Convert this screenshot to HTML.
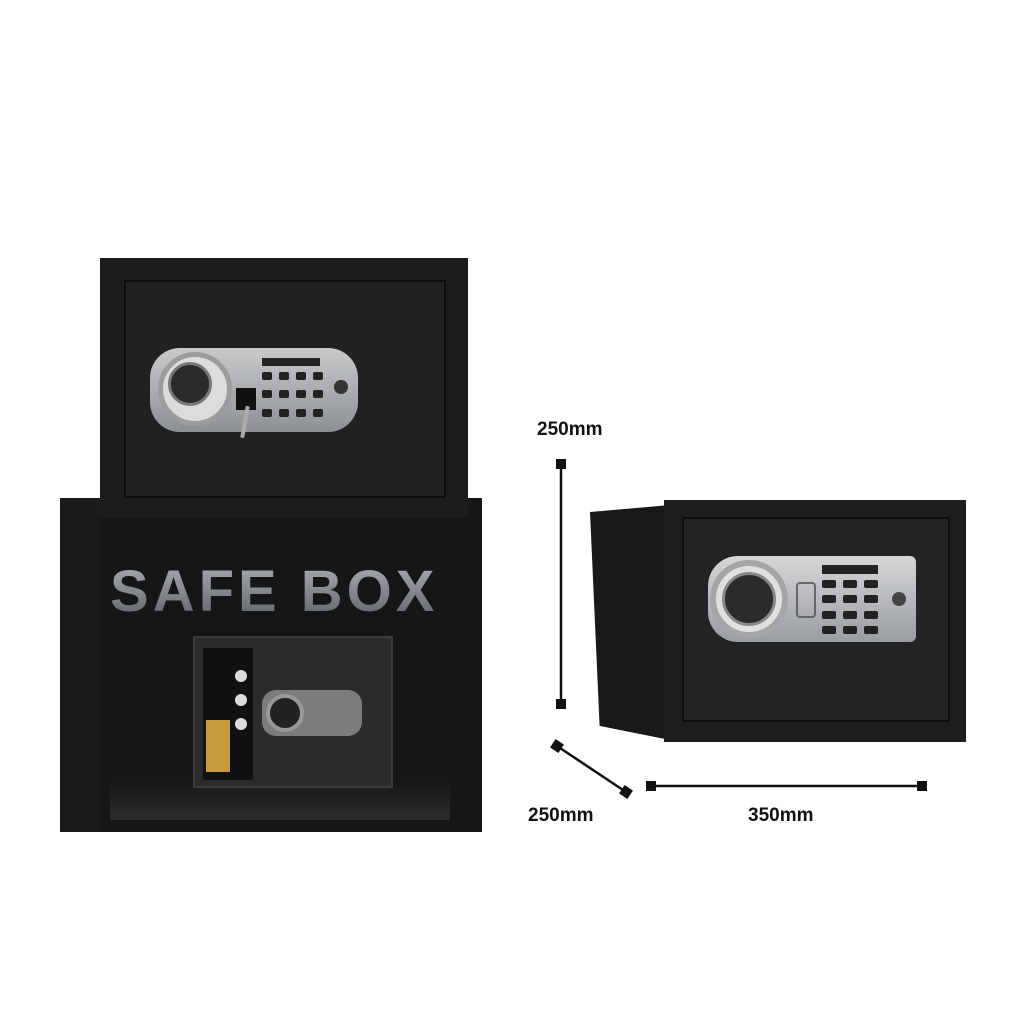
<!DOCTYPE html>
<html><head><meta charset="utf-8"><style>
body{margin:0;width:1024px;height:1024px;background:#fff;position:relative;overflow:hidden;font-family:"Liberation Sans",sans-serif}
div{position:absolute;box-sizing:border-box}
.lbl{font-weight:bold;font-size:19px;color:#111}
.key{width:10px;height:8px;background:#222;border-radius:2px}
</style></head><body>
<!-- box -->
<div style="left:60px;top:498px;width:422px;height:334px;background:#141617"></div>
<div style="left:60px;top:498px;width:40px;height:334px;background:#191b1c"></div>
<div style="left:110px;top:558px;width:340px;font-size:58px;font-weight:bold;letter-spacing:4px;font-family:'Liberation Sans',sans-serif;background:linear-gradient(#b0b3b6,#5a5d60);-webkit-background-clip:text;background-clip:text;color:transparent">SAFE BOX</div>
<div style="left:110px;top:780px;width:340px;height:40px;background:linear-gradient(#141617,#2a2c2e)"></div>
<!-- pictured safe on box -->
<div style="left:193px;top:636px;width:200px;height:152px;background:#2a2b2c;border:2px solid #3a3b3c"></div>
<div style="left:203px;top:648px;width:50px;height:132px;background:#111"></div>
<div style="left:206px;top:720px;width:24px;height:52px;background:#c89a3a"></div>
<div style="left:235px;top:670px;width:12px;height:12px;border-radius:50%;background:#ddd"></div>
<div style="left:235px;top:694px;width:12px;height:12px;border-radius:50%;background:#ddd"></div>
<div style="left:235px;top:718px;width:12px;height:12px;border-radius:50%;background:#ddd"></div>
<div style="left:262px;top:690px;width:100px;height:46px;background:#7a7c7e;border-radius:14px"></div>
<div style="left:266px;top:694px;width:38px;height:38px;border-radius:50%;background:#222;border:4px solid #999"></div>
<!-- top safe -->
<div style="left:100px;top:258px;width:368px;height:260px;background:#1b1c1d"></div>
<div style="left:124px;top:280px;width:322px;height:218px;border:2px solid #0c0c0c;background:#202122"></div>
<div style="left:150px;top:348px;width:208px;height:84px;background:linear-gradient(#c8cacc,#8d9092);border-radius:30px"></div>
<div style="left:158px;top:352px;width:74px;height:74px;border-radius:50%;background:#dcdcdc;border:5px solid #9a9c9e"></div>
<div style="left:168px;top:362px;width:44px;height:44px;border-radius:50%;background:#2a2a2a;border:3px solid #777"></div>
<div style="left:262px;top:358px;width:58px;height:8px;background:#222"></div>
<div style="left:262px;top:372px;width:60px;height:50px;display:grid;grid-template-columns:repeat(4,12px);gap:5px 5px">
<div class="key" style="position:static"></div><div class="key" style="position:static"></div><div class="key" style="position:static"></div><div class="key" style="position:static"></div><div class="key" style="position:static"></div><div class="key" style="position:static"></div><div class="key" style="position:static"></div><div class="key" style="position:static"></div><div class="key" style="position:static"></div><div class="key" style="position:static"></div><div class="key" style="position:static"></div><div class="key" style="position:static"></div></div>
<div style="left:334px;top:380px;width:14px;height:14px;border-radius:50%;background:#333"></div>
<div style="left:236px;top:388px;width:20px;height:22px;background:#111"></div>
<div style="left:243px;top:406px;width:4px;height:32px;background:#aaa;transform:rotate(10deg)"></div>
<!-- right safe -->
<div style="left:590px;top:505px;width:80px;height:235px;background:#18191a;clip-path:polygon(0 3%,100% 0,100% 100%,12% 94%)"></div>
<div style="left:664px;top:500px;width:302px;height:242px;background:#1d1e1f"></div>
<div style="left:682px;top:517px;width:268px;height:205px;border:2px solid #0e0e0e;background:#222324"></div>
<div style="left:708px;top:556px;width:208px;height:86px;background:linear-gradient(#d5d7d9,#9a9da0);border-radius:30px 6px 6px 30px"></div>
<div style="left:710px;top:560px;width:78px;height:78px;border-radius:50%;background:#e0e0e0;border:6px solid #a3a5a7"></div>
<div style="left:722px;top:572px;width:54px;height:54px;border-radius:50%;background:#2b2b2b;border:3px solid #888"></div>
<div style="left:822px;top:565px;width:56px;height:9px;background:#222"></div>
<div style="left:796px;top:582px;width:20px;height:36px;border:2px solid #666;border-radius:4px"></div>
<div style="left:822px;top:580px;width:64px;height:56px;display:grid;grid-template-columns:repeat(3,14px);gap:5px 7px">
<div class="key" style="position:static;width:14px"></div><div class="key" style="position:static;width:14px"></div><div class="key" style="position:static;width:14px"></div><div class="key" style="position:static;width:14px"></div><div class="key" style="position:static;width:14px"></div><div class="key" style="position:static;width:14px"></div><div class="key" style="position:static;width:14px"></div><div class="key" style="position:static;width:14px"></div><div class="key" style="position:static;width:14px"></div><div class="key" style="position:static;width:14px"></div><div class="key" style="position:static;width:14px"></div><div class="key" style="position:static;width:14px"></div></div>
<div style="left:892px;top:592px;width:14px;height:14px;border-radius:50%;background:#444"></div>
<!-- dimensions -->
<svg style="position:absolute;left:0;top:0" width="1024" height="1024">
<g stroke="#111" stroke-width="2.5" fill="#111">
<line x1="561" y1="464" x2="561" y2="704"/>
<rect x="556" y="459" width="10" height="10" stroke="none"/><rect x="556" y="699" width="10" height="10" stroke="none"/>
<line x1="557" y1="746" x2="626" y2="792"/>
<rect x="552" y="741" width="10" height="10" stroke="none" transform="rotate(34 557 746)"/><rect x="621" y="787" width="10" height="10" stroke="none" transform="rotate(34 626 792)"/>
<line x1="651" y1="786" x2="922" y2="786"/>
<rect x="646" y="781" width="10" height="10" stroke="none"/><rect x="917" y="781" width="10" height="10" stroke="none"/>
</g></svg>
<div class="lbl" style="left:537px;top:419px">250mm</div>
<div class="lbl" style="left:528px;top:805px">250mm</div>
<div class="lbl" style="left:748px;top:805px">350mm</div>
</body></html>
